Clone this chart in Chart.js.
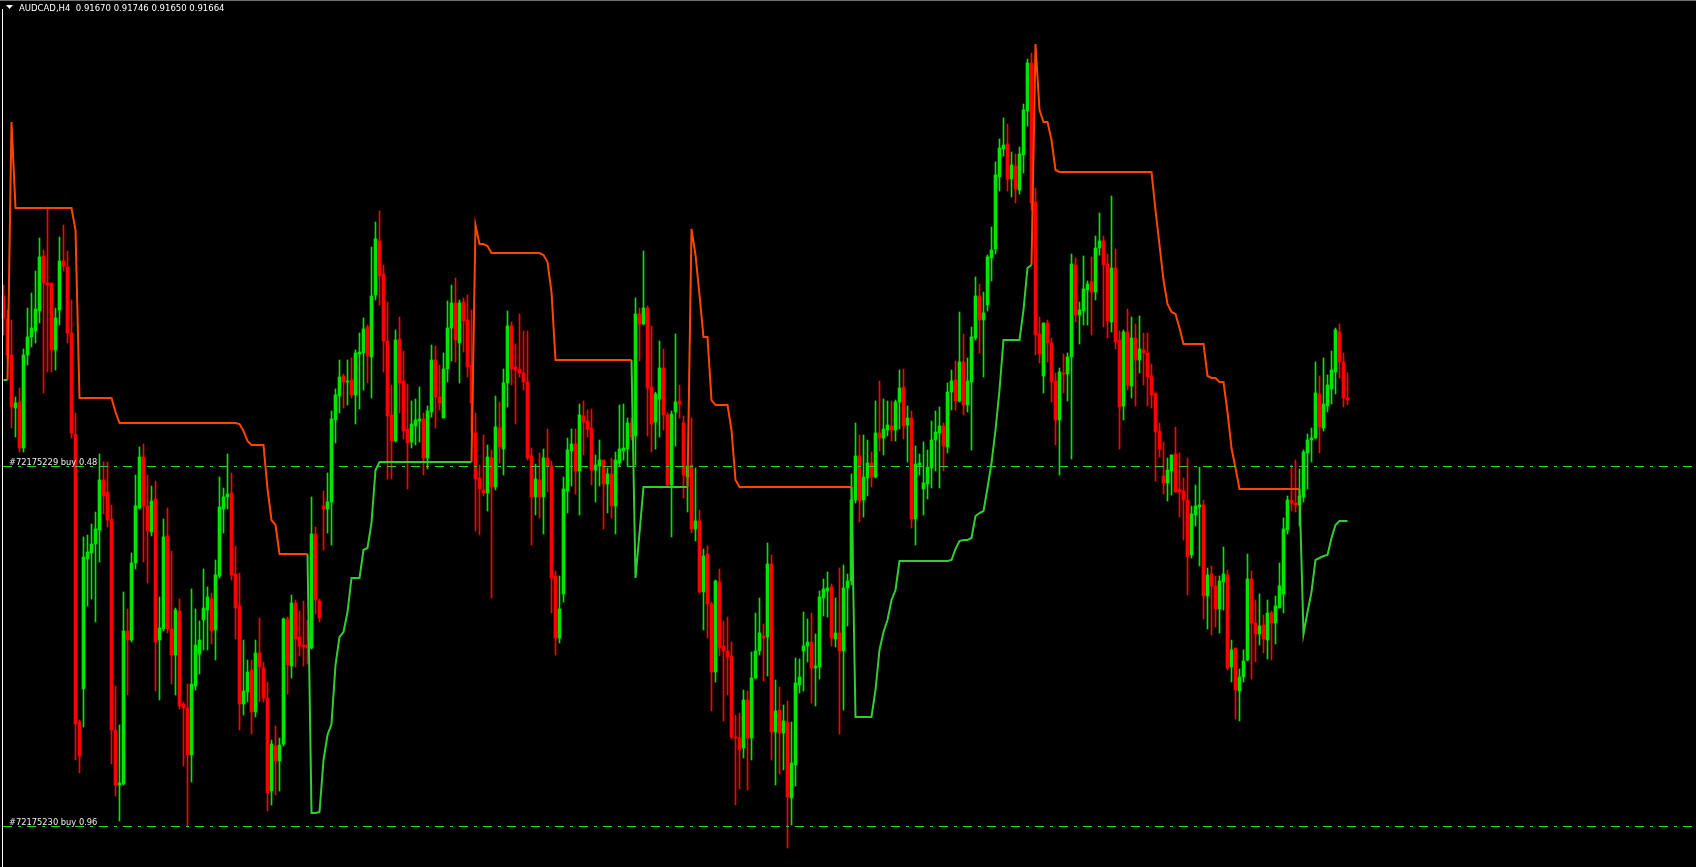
<!DOCTYPE html>
<html>
<head>
<meta charset="utf-8">
<title>AUDCAD,H4</title>
<script src="https://cdn.jsdelivr.net/npm/chart.js@4.4.1/dist/chart.umd.min.js"></script>
<style>
  html, body { margin: 0; padding: 0; background: #000; overflow: hidden; }
  #wrap { position: relative; width: 1696px; height: 867px; }
</style>
</head>
<body>
<div id="wrap"><canvas id="chart" width="1696" height="867"></canvas></div>
<script>
const symbol = 'AUDCAD,H4';

// H4 candles, oldest first
const open = [
  0.91976,0.91907,0.91799,0.91640,0.91658,0.91520,0.91799,0.91853,0.91871,0.91931,
  0.92096,0.92015,0.92015,0.91814,0.91934,0.92081,0.92063,0.91865,0.91562,0.90698,
  0.90797,0.91187,0.91205,0.91232,0.91274,0.91424,0.91388,0.91307,0.90674,0.90509,
  0.90512,0.90971,0.90944,0.91175,0.91340,0.91493,0.91346,0.91268,0.91367,0.90944,
  0.90977,0.91256,0.90977,0.90899,0.91031,0.90752,0.90740,0.90599,0.90806,0.90902,
  0.91004,0.91034,0.91067,0.90974,0.91136,0.91337,0.91373,0.91385,0.91142,0.91046,
  0.90752,0.90788,0.90854,0.90728,0.90905,0.90860,0.90770,0.90491,0.90626,0.90581,
  0.90632,0.91007,0.90866,0.91055,0.90953,0.90929,0.90929,0.90920,0.91262,0.91061,
  0.91346,0.91337,0.91358,0.91604,0.91676,0.91736,0.91718,0.91724,0.91679,0.91802,
  0.91805,0.91883,0.91793,0.91979,0.92141,0.92042,0.91841,0.91619,0.91541,0.91847,
  0.91721,0.91577,0.91538,0.91586,0.91601,0.91607,0.91490,0.91628,0.91784,0.91673,
  0.91610,0.91757,0.91880,0.91955,0.91835,0.91958,0.91904,0.91769,0.91565,0.91430,
  0.91394,0.91385,0.91490,0.91403,0.91580,0.91517,0.91715,0.91886,0.91763,0.91757,
  0.91745,0.91718,0.91496,0.91373,0.91424,0.91373,0.91490,0.91466,0.91136,0.90950,
  0.91082,0.91391,0.91511,0.91532,0.91451,0.91616,0.91601,0.91580,0.91454,0.91466,
  0.91484,0.91412,0.91442,0.91346,0.91475,0.91511,0.91517,0.91595,0.91556,0.91922,
  0.91892,0.91940,0.91703,0.91598,0.91667,0.91760,0.91619,0.91409,0.91628,0.91661,
  0.91595,0.91433,0.91469,0.91277,0.91301,0.91088,0.91202,0.91052,0.90848,0.91118,
  0.90926,0.90911,0.90896,0.90653,0.90650,0.90620,0.90764,0.90650,0.90830,0.90911,
  0.90956,0.90953,0.91172,0.90668,0.90734,0.90665,0.90698,0.90470,0.90569,0.90809,
  0.90911,0.90926,0.90938,0.90860,0.90863,0.91070,0.91091,0.91103,0.90947,0.90965,
  0.90911,0.91100,0.91121,0.91364,0.91496,0.91364,0.91430,0.91475,0.91433,0.91565,
  0.91550,0.91574,0.91586,0.91574,0.91658,0.91703,0.91589,0.91610,0.91307,0.91469,
  0.91397,0.91412,0.91460,0.91544,0.91565,0.91586,0.91523,0.91688,0.91724,0.91661,
  0.91778,0.91649,0.91718,0.91850,0.91976,0.91904,0.91949,0.92090,0.92117,0.92333,
  0.92417,0.92432,0.92327,0.92366,0.92294,0.92399,0.92531,0.92675,0.92258,0.91862,
  0.91736,0.91895,0.91835,0.91721,0.91604,0.91745,0.91742,0.91793,0.92069,0.91919,
  0.91931,0.91994,0.92018,0.91988,0.92120,0.92141,0.92072,0.91898,0.92060,0.91844,
  0.91646,0.91868,0.91706,0.91850,0.91784,0.91814,0.91805,0.91736,0.91685,0.91571,
  0.91436,0.91415,0.91451,0.91502,0.91397,0.91391,0.91364,0.91199,0.91319,0.91343,
  0.91349,0.91076,0.91142,0.91106,0.91037,0.91118,0.91139,0.90863,0.90920,0.90791,
  0.90833,0.90884,0.91127,0.90995,0.90962,0.90989,0.90944,0.91025,0.90995,0.91040,
  0.91082,0.91274,0.91364,0.91355,0.91349,0.91373,0.91505,0.91544,0.91550,0.91682,
  0.91580,0.91646,0.91697,0.91748,0.91868,0.91778,0.91670
];
const high = [
  0.92009,0.91934,0.91904,0.91673,0.91700,0.91817,0.91940,0.91985,0.92051,0.92150,
  0.92114,0.92243,0.92015,0.91940,0.92153,0.92189,0.92111,0.91964,0.91625,0.90704,
  0.91253,0.91259,0.91292,0.91328,0.91502,0.91478,0.91478,0.91349,0.90806,0.90689,
  0.91088,0.91037,0.91205,0.91439,0.91523,0.91532,0.91439,0.91406,0.91421,0.91073,
  0.91307,0.91340,0.91211,0.91040,0.91067,0.90758,0.90812,0.91097,0.91037,0.91001,
  0.91157,0.91103,0.91085,0.91184,0.91433,0.91400,0.91502,0.91445,0.91226,0.91145,
  0.90944,0.90884,0.90884,0.90944,0.91010,0.90878,0.90818,0.90644,0.90686,0.90650,
  0.91010,0.91013,0.91079,0.91064,0.91031,0.91061,0.91004,0.91373,0.91283,0.91067,
  0.91391,0.91445,0.91631,0.91697,0.91784,0.91742,0.91784,0.91790,0.91814,0.91865,
  0.91910,0.91889,0.92123,0.92198,0.92231,0.92069,0.91958,0.91709,0.91874,0.91913,
  0.91811,0.91712,0.91661,0.91667,0.91703,0.91625,0.91646,0.91829,0.91826,0.91769,
  0.91805,0.91961,0.92009,0.92030,0.91964,0.91970,0.91979,0.91934,0.91625,0.91469,
  0.91559,0.91529,0.91514,0.91676,0.91658,0.91757,0.91931,0.91898,0.91832,0.91922,
  0.91871,0.91871,0.91520,0.91472,0.91505,0.91517,0.91577,0.91481,0.91151,0.91136,
  0.91433,0.91550,0.91577,0.91577,0.91652,0.91661,0.91634,0.91637,0.91499,0.91544,
  0.91484,0.91460,0.91490,0.91508,0.91649,0.91652,0.91610,0.91610,0.91970,0.91940,
  0.92111,0.91946,0.91886,0.91688,0.91841,0.91817,0.91625,0.91631,0.91862,0.91709,
  0.91616,0.91466,0.91610,0.91460,0.91334,0.91217,0.91226,0.91058,0.91124,0.91157,
  0.91001,0.91013,0.90938,0.90719,0.90725,0.90794,0.90791,0.90908,0.91025,0.91070,
  0.90992,0.91235,0.91199,0.90824,0.90803,0.90749,0.90761,0.90698,0.90890,0.90887,
  0.91028,0.91007,0.91025,0.90962,0.91091,0.91127,0.91148,0.91112,0.91070,0.91160,
  0.91169,0.91142,0.91442,0.91595,0.91559,0.91559,0.91544,0.91508,0.91661,0.91721,
  0.91667,0.91661,0.91661,0.91664,0.91754,0.91757,0.91646,0.91631,0.91526,0.91502,
  0.91538,0.91514,0.91601,0.91631,0.91643,0.91595,0.91715,0.91754,0.91781,0.91928,
  0.91862,0.91790,0.91883,0.92033,0.92012,0.91988,0.92099,0.92183,0.92378,0.92447,
  0.92510,0.92492,0.92408,0.92402,0.92423,0.92552,0.92687,0.92705,0.92300,0.91913,
  0.91895,0.91904,0.91850,0.91745,0.91760,0.91802,0.91805,0.92102,0.92090,0.91958,
  0.92096,0.92021,0.92093,0.92156,0.92225,0.92156,0.92102,0.92276,0.92117,0.91871,
  0.91874,0.91937,0.91913,0.91892,0.91916,0.91865,0.91865,0.91772,0.91685,0.91595,
  0.91538,0.91490,0.91499,0.91583,0.91505,0.91430,0.91490,0.91346,0.91409,0.91463,
  0.91364,0.91160,0.91166,0.91136,0.91136,0.91223,0.91154,0.90944,0.90920,0.90857,
  0.90914,0.91202,0.91151,0.91064,0.91082,0.91019,0.91064,0.91031,0.91076,0.91175,
  0.91310,0.91376,0.91469,0.91484,0.91457,0.91514,0.91562,0.91580,0.91778,0.91736,
  0.91790,0.91739,0.91811,0.91880,0.91892,0.91805,0.91746
];
const low = [
  0.91859,0.91778,0.91580,0.91553,0.91508,0.91508,0.91769,0.91823,0.91835,0.91895,
  0.91685,0.91748,0.91748,0.91754,0.91889,0.92051,0.91835,0.91550,0.90584,0.90545,
  0.90683,0.91046,0.91067,0.90998,0.91178,0.91322,0.91283,0.90572,0.90476,0.90401,
  0.90509,0.90779,0.90938,0.91157,0.91337,0.91178,0.91115,0.91256,0.90791,0.90764,
  0.90971,0.90965,0.90812,0.90779,0.90737,0.90566,0.90386,0.90518,0.90794,0.90842,
  0.90914,0.90914,0.90932,0.90884,0.91130,0.91265,0.91337,0.91124,0.90947,0.90674,
  0.90719,0.90758,0.90662,0.90713,0.90758,0.90758,0.90431,0.90449,0.90479,0.90491,
  0.90626,0.90782,0.90830,0.90863,0.90896,0.90866,0.90872,0.90917,0.91022,0.90998,
  0.91214,0.91265,0.91229,0.91535,0.91625,0.91640,0.91649,0.91670,0.91592,0.91637,
  0.91694,0.91715,0.91670,0.91964,0.91949,0.91748,0.91427,0.91427,0.91538,0.91625,
  0.91547,0.91397,0.91520,0.91529,0.91538,0.91439,0.91457,0.91613,0.91580,0.91634,
  0.91610,0.91718,0.91781,0.91778,0.91715,0.91808,0.91733,0.91565,0.91271,0.91259,
  0.91376,0.91331,0.91070,0.91394,0.91475,0.91439,0.91643,0.91709,0.91592,0.91733,
  0.91694,0.91484,0.91229,0.91319,0.91310,0.91262,0.91388,0.91025,0.90899,0.90935,
  0.91058,0.91325,0.91406,0.91382,0.91319,0.91499,0.91553,0.91409,0.91358,0.91406,
  0.91277,0.91325,0.91310,0.91262,0.91466,0.91484,0.91466,0.91544,0.91469,0.91781,
  0.91889,0.91556,0.91508,0.91517,0.91553,0.91574,0.91406,0.91253,0.91526,0.91610,
  0.91370,0.91328,0.91265,0.91241,0.91085,0.90974,0.90950,0.90731,0.90818,0.90896,
  0.90701,0.90779,0.90647,0.90449,0.90497,0.90590,0.90494,0.90584,0.90827,0.90899,
  0.90821,0.90836,0.90584,0.90509,0.90542,0.90554,0.90320,0.90389,0.90506,0.90785,
  0.90791,0.90878,0.90755,0.90746,0.90827,0.91016,0.91013,0.90926,0.90923,0.90662,
  0.90734,0.90986,0.91109,0.91355,0.91298,0.91313,0.91376,0.91403,0.91430,0.91511,
  0.91499,0.91556,0.91541,0.91541,0.91577,0.91547,0.91478,0.91280,0.91229,0.91439,
  0.91319,0.91367,0.91400,0.91451,0.91400,0.91451,0.91505,0.91634,0.91634,0.91658,
  0.91619,0.91628,0.91514,0.91844,0.91805,0.91733,0.91931,0.92021,0.92102,0.92291,
  0.92396,0.92291,0.92273,0.92255,0.92282,0.92345,0.92486,0.92234,0.91799,0.91775,
  0.91685,0.91778,0.91658,0.91529,0.91439,0.91685,0.91661,0.91487,0.91898,0.91832,
  0.91889,0.91889,0.91859,0.91964,0.92099,0.91883,0.91850,0.91868,0.91817,0.91517,
  0.91604,0.91694,0.91670,0.91646,0.91745,0.91709,0.91646,0.91640,0.91421,0.91493,
  0.91382,0.91361,0.91379,0.91388,0.91313,0.91244,0.91079,0.91190,0.91286,0.91166,
  0.91007,0.90977,0.90959,0.90983,0.90965,0.91034,0.90854,0.90818,0.90707,0.90701,
  0.90818,0.90881,0.90827,0.90878,0.90929,0.90905,0.90887,0.90884,0.90932,0.91040,
  0.91025,0.91262,0.91331,0.91328,0.91286,0.91358,0.91397,0.91478,0.91547,0.91505,
  0.91571,0.91628,0.91652,0.91682,0.91730,0.91643,0.91650
];
const close = [
  0.91910,0.91799,0.91643,0.91655,0.91520,0.91799,0.91853,0.91880,0.91937,0.92093,
  0.92015,0.92009,0.91814,0.91910,0.92081,0.92066,0.91865,0.91565,0.90692,0.90596,
  0.91193,0.91208,0.91232,0.91277,0.91424,0.91376,0.91304,0.90674,0.90509,0.90515,
  0.90971,0.90944,0.91175,0.91346,0.91493,0.91346,0.91271,0.91361,0.90938,0.90980,
  0.91253,0.90977,0.90899,0.91034,0.90746,0.90740,0.90599,0.90812,0.90929,0.90944,
  0.91040,0.91073,0.90971,0.91139,0.91343,0.91373,0.91382,0.91139,0.91040,0.90752,
  0.90791,0.90848,0.90728,0.90905,0.90863,0.90770,0.90485,0.90632,0.90581,0.90629,
  0.91007,0.90869,0.91055,0.90947,0.90926,0.90923,0.90920,0.91262,0.91064,0.91010,
  0.91337,0.91358,0.91607,0.91679,0.91733,0.91718,0.91721,0.91679,0.91805,0.91808,
  0.91877,0.91796,0.91976,0.92147,0.92036,0.91841,0.91616,0.91541,0.91844,0.91715,
  0.91571,0.91535,0.91592,0.91604,0.91607,0.91490,0.91631,0.91784,0.91673,0.91655,
  0.91757,0.91880,0.91955,0.91844,0.91955,0.91901,0.91763,0.91655,0.91427,0.91397,
  0.91385,0.91493,0.91403,0.91583,0.91523,0.91715,0.91886,0.91757,0.91754,0.91745,
  0.91718,0.91490,0.91373,0.91427,0.91373,0.91490,0.91466,0.91130,0.90950,0.91037,
  0.91397,0.91514,0.91532,0.91451,0.91619,0.91598,0.91577,0.91454,0.91469,0.91484,
  0.91412,0.91442,0.91346,0.91484,0.91517,0.91520,0.91595,0.91553,0.91922,0.91892,
  0.91940,0.91700,0.91592,0.91682,0.91760,0.91619,0.91409,0.91622,0.91658,0.91652,
  0.91439,0.91466,0.91277,0.91301,0.91088,0.91196,0.91052,0.90848,0.91121,0.90920,
  0.90911,0.90893,0.90653,0.90650,0.90614,0.90764,0.90650,0.90830,0.90911,0.90965,
  0.90950,0.91172,0.90668,0.90731,0.90665,0.90701,0.90473,0.90575,0.90815,0.90833,
  0.90926,0.90938,0.90860,0.90866,0.91073,0.91097,0.91100,0.90950,0.90965,0.90911,
  0.91100,0.91121,0.91364,0.91496,0.91361,0.91433,0.91475,0.91433,0.91565,0.91550,
  0.91577,0.91589,0.91574,0.91658,0.91700,0.91586,0.91610,0.91307,0.91472,0.91475,
  0.91415,0.91463,0.91544,0.91568,0.91586,0.91526,0.91688,0.91721,0.91661,0.91778,
  0.91649,0.91721,0.91853,0.91976,0.91904,0.91925,0.92093,0.92114,0.92339,0.92420,
  0.92429,0.92327,0.92369,0.92297,0.92402,0.92534,0.92675,0.92255,0.91859,0.91802,
  0.91895,0.91835,0.91718,0.91604,0.91748,0.91742,0.91793,0.92072,0.91919,0.91934,
  0.91997,0.92012,0.91988,0.92120,0.92141,0.92069,0.91901,0.92060,0.91838,0.91643,
  0.91868,0.91709,0.91850,0.91784,0.91817,0.91805,0.91733,0.91679,0.91568,0.91517,
  0.91415,0.91454,0.91499,0.91388,0.91388,0.91364,0.91193,0.91322,0.91346,0.91349,
  0.91076,0.91139,0.91106,0.91037,0.91121,0.91142,0.90860,0.90914,0.90794,0.90833,
  0.90881,0.91127,0.90995,0.90962,0.90986,0.90947,0.91025,0.90995,0.91046,0.91106,
  0.91277,0.91364,0.91355,0.91349,0.91376,0.91508,0.91544,0.91550,0.91685,0.91583,
  0.91652,0.91709,0.91754,0.91874,0.91778,0.91670,0.91664
];

// trailing stop indicator: upper (orange) and lower (green) buffers
const upperStop = [
  null,0.91724,0.92498,0.92240,0.92240,0.92240,0.92240,0.92240,0.92240,0.92240,
  0.92240,0.92240,0.92240,0.92240,0.92240,0.92240,0.92240,0.92240,0.92174,0.91670,
  0.91670,0.91670,0.91670,0.91670,0.91670,0.91670,0.91670,0.91670,0.91628,0.91595,
  0.91595,0.91595,0.91595,0.91595,0.91595,0.91595,0.91595,0.91595,0.91595,0.91595,
  0.91595,0.91595,0.91595,0.91595,0.91595,0.91595,0.91595,0.91595,0.91595,0.91595,
  0.91595,0.91595,0.91595,0.91595,0.91595,0.91595,0.91595,0.91595,0.91595,0.91592,
  0.91571,0.91541,0.91529,0.91529,0.91529,0.91529,0.91397,0.91304,0.91289,0.91202,
  0.91202,0.91202,0.91202,0.91202,0.91202,0.91202,0.91202,null,null,null,
  null,null,null,null,null,null,null,null,null,null,
  null,null,null,null,null,null,null,null,null,null,
  null,null,null,null,null,null,null,null,null,null,
  null,null,null,null,null,null,null,0.91478,0.92189,0.92132,
  0.92132,0.92126,0.92105,0.92105,0.92105,0.92105,0.92105,0.92105,0.92105,0.92105,
  0.92105,0.92105,0.92105,0.92105,0.92105,0.92099,0.92078,0.91988,0.91784,0.91784,
  0.91784,0.91784,0.91784,0.91784,0.91784,0.91784,0.91784,0.91784,0.91784,0.91784,
  0.91784,0.91784,0.91784,0.91784,0.91784,0.91784,0.91784,0.91784,null,null,
  null,null,null,null,null,null,null,null,null,null,
  null,0.91403,0.92177,0.92099,0.91979,0.91853,0.91853,0.91664,0.91649,0.91649,
  0.91649,0.91649,0.91574,0.91424,0.91403,0.91403,0.91403,0.91403,0.91403,0.91403,
  0.91403,0.91403,0.91403,0.91403,0.91403,0.91403,0.91403,0.91403,0.91403,0.91403,
  0.91403,0.91403,0.91403,0.91403,0.91403,0.91403,0.91403,0.91403,0.91403,0.91403,
  0.91403,0.91403,0.91403,null,null,null,null,null,null,null,
  null,null,null,null,null,null,null,null,null,null,
  null,null,null,null,null,null,null,null,null,null,
  null,null,null,null,null,null,null,null,null,null,
  null,null,null,null,null,null,null,0.92069,0.92732,0.92534,
  0.92498,0.92498,0.92444,0.92354,0.92348,0.92348,0.92348,0.92348,0.92348,0.92348,
  0.92348,0.92348,0.92348,0.92348,0.92348,0.92348,0.92348,0.92348,0.92348,0.92348,
  0.92348,0.92348,0.92348,0.92348,0.92348,0.92348,0.92348,0.92348,0.92234,0.92129,
  0.92024,0.91952,0.91928,0.91922,0.91880,0.91832,0.91832,0.91832,0.91832,0.91832,
  0.91832,0.91736,0.91730,0.91730,0.91718,0.91718,0.91628,0.91520,0.91460,0.91397,
  0.91397,0.91397,0.91397,0.91397,0.91397,0.91397,0.91397,0.91397,0.91397,0.91397,
  0.91397,0.91397,0.91397,0.91397,0.91397,null,null,null,null,null,
  null,null,null,null,null,null,null
];
const lowerStop = [
  0.91724,0.91724,null,null,null,null,null,null,null,null,
  null,null,null,null,null,null,null,null,null,null,
  null,null,null,null,null,null,null,null,null,null,
  null,null,null,null,null,null,null,null,null,null,
  null,null,null,null,null,null,null,null,null,null,
  null,null,null,null,null,null,null,null,null,null,
  null,null,null,null,null,null,null,null,null,null,
  null,null,null,null,null,null,0.91202,0.90425,0.90425,0.90428,
  0.90584,0.90659,0.90692,0.90869,0.90953,0.90968,0.91028,0.91130,0.91130,0.91130,
  0.91214,0.91220,0.91295,0.91454,0.91478,0.91478,0.91478,0.91478,0.91478,0.91478,
  0.91478,0.91478,0.91478,0.91478,0.91478,0.91478,0.91478,0.91478,0.91478,0.91478,
  0.91478,0.91478,0.91478,0.91478,0.91478,0.91478,0.91478,0.91478,null,null,
  null,null,null,null,null,null,null,null,null,null,
  null,null,null,null,null,null,null,null,null,null,
  null,null,null,null,null,null,null,null,null,null,
  null,null,null,null,null,null,null,0.91784,0.91130,0.91265,
  0.91403,0.91403,0.91403,0.91403,0.91403,0.91403,0.91403,0.91403,0.91403,0.91403,
  0.91403,0.91403,null,null,null,null,null,null,null,null,
  null,null,null,null,null,null,null,null,null,null,
  null,null,null,null,null,null,null,null,null,null,
  null,null,null,null,null,null,null,null,null,null,
  null,null,0.91403,0.90713,0.90713,0.90713,0.90713,0.90713,0.90794,0.90914,
  0.90968,0.91004,0.91064,0.91094,0.91181,0.91181,0.91181,0.91181,0.91181,0.91181,
  0.91181,0.91181,0.91181,0.91181,0.91181,0.91181,0.91181,0.91184,0.91217,0.91241,
  0.91244,0.91244,0.91250,0.91316,0.91325,0.91331,0.91400,0.91475,0.91574,0.91694,
  0.91844,0.91844,0.91844,0.91844,0.91844,0.91934,0.92060,0.92069,null,null,
  null,null,null,null,null,null,null,null,null,null,
  null,null,null,null,null,null,null,null,null,null,
  null,null,null,null,null,null,null,null,null,null,
  null,null,null,null,null,null,null,null,null,null,
  null,null,null,null,null,null,null,null,null,null,
  null,null,null,null,null,null,null,null,null,null,
  null,null,null,null,0.91397,0.90962,0.91028,0.91088,0.91184,0.91190,
  0.91196,0.91199,0.91250,0.91289,0.91301,0.91301,0.91301
];

// open orders drawn as horizontal levels
const orderPrices = [0.91466, 0.90386];
const orderLabels = ['#72175229 buy 0.48', '#72175230 buy 0.96'];

const bullColor = '#00e600';
const bearColor = '#ff0000';
const upperColor = '#ff4500';
const lowerColor = '#32cd32';

const last = close.length - 1;
const titleText = symbol + '  ' + [open[last], high[last], low[last], close[last]].map(v => v.toFixed(5)).join(' ');

const bodies = open.map((o, i) => ({ x: i, y: [o, close[i]] }));
const wicks = low.map((l, i) => ({ x: i, y: [l, high[i]] }));
const candleColor = (ctx) => {
  const i = ctx.dataIndex;
  return close[i] >= open[i] ? bullColor : bearColor;
};

const mt4Overlay = {
  id: 'mt4Overlay',
  beforeDraw(chart) {
    const c = chart.ctx;
    c.save();
    c.fillStyle = '#000';
    c.fillRect(0, 0, chart.width, chart.height);
    c.restore();
  },
  afterDatasetsDraw(chart) {
    const c = chart.ctx;
    const y = chart.scales.y;
    c.save();

    // order levels
    c.strokeStyle = lowerColor;
    c.lineWidth = 1;
    c.setLineDash([9, 6, 3, 6]);
    orderPrices.forEach(p => {
      const py = Math.round(y.getPixelForValue(p)) + 0.5;
      c.beginPath();
      c.moveTo(3, py);
      c.lineTo(chart.width, py);
      c.stroke();
    });
    c.setLineDash([]);

    c.font = '8.3px "DejaVu Sans"';
    c.fillStyle = '#ececec';
    c.textBaseline = 'alphabetic';
    orderPrices.forEach((p, k) => {
      c.fillText(orderLabels[k], 9, y.getPixelForValue(p) - 1.5);
    });

    // title with small dropdown arrow
    c.fillStyle = '#ffffff';
    c.beginPath();
    c.moveTo(6, 5);
    c.lineTo(13, 5);
    c.lineTo(9.5, 9);
    c.closePath();
    c.fill();
    c.font = '8.5px "DejaVu Sans"';
    c.fillText(titleText, 19, 10.5);

    // window frame
    c.fillStyle = '#ffffff';
    c.fillRect(2, 9, 1, chart.height - 9);
    c.fillStyle = '#707070';
    c.fillRect(0, 0, chart.width, 1);
    c.restore();
  }
};

new Chart(document.getElementById('chart'), {
  type: 'bar',
  data: {
    datasets: [
      {
        type: 'line',
        label: 'Upper stop',
        data: upperStop.map((v, i) => ({ x: i, y: v })),
        borderColor: upperColor,
        borderWidth: 2,
        pointRadius: 0,
        tension: 0,
        spanGaps: false,
        order: 0
      },
      {
        type: 'line',
        label: 'Lower stop',
        data: lowerStop.map((v, i) => ({ x: i, y: v })),
        borderColor: lowerColor,
        borderWidth: 2,
        pointRadius: 0,
        tension: 0,
        spanGaps: false,
        order: 0
      },
      {
        label: 'Bodies',
        data: bodies,
        backgroundColor: candleColor,
        barThickness: 3,
        minBarLength: 1,
        order: 1
      },
      {
        label: 'Wicks',
        data: wicks,
        backgroundColor: candleColor,
        barThickness: 1,
        order: 2
      }
    ]
  },
  options: {
    responsive: false,
    animation: false,
    devicePixelRatio: 1,
    events: [],
    layout: { padding: 0 },
    datasets: {
      bar: { grouped: false, borderWidth: 0, borderSkipped: false }
    },
    plugins: {
      legend: { display: false },
      tooltip: { enabled: false }
    },
    scales: {
      x: { type: 'linear', min: -0.875, max: 423.125, offset: false, display: false, grid: { offset: false } },
      y: { min: 0.90263, max: 0.92864, display: false }
    }
  },
  plugins: [mt4Overlay]
});
</script>
</body>
</html>
